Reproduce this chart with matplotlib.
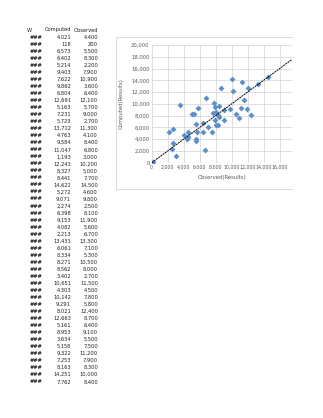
import matplotlib
matplotlib.use('Agg')
import matplotlib.pyplot as plt
from matplotlib.lines import Line2D

# observed vs computed results (one row per case)
observed = [4400, 200, 5500, 8300, 2200, 7900, 10900, 3600, 6400, 12100,
            5700, 9000, 2700, 11300, 4100, 8400, 6800, 3000, 10200, 5000,
            7700, 14500, 4600, 9800, 2500, 8100, 11900, 5600, 6700, 13300,
            7100, 5300, 10500, 8000, 2700, 11500, 4500, 7800, 5800, 12400,
            8700, 6400, 9100, 5500, 7500, 11200, 7900, 8300, 10000, 8400]
computed = [4021, 118, 6573, 6402, 5214, 9403, 7622, 9862, 6804, 12691,
            5163, 7231, 5723, 13712, 4763, 9584, 11047, 1193, 12243, 8327,
            8441, 14622, 5272, 9071, 2274, 6398, 9153, 4082, 2213, 13431,
            6061, 8334, 8271, 8562, 3402, 10651, 4303, 10142, 9291, 8021,
            12663, 5161, 8953, 3634, 5158, 9322, 7253, 8163, 14251, 7762]

col_header = ['W', 'Computed', 'Observed']

W, H = 323, 418
fig = plt.figure(figsize=(W / 100, H / 100), dpi=100)
fig.patch.set_facecolor('white')

def fx(px):
    return px / W

def fy(py):
    return 1 - py / H

# sheet columns on the left
tfont = dict(fontsize=3.7, family='DejaVu Sans', color='#222222', va='center')
fig.text(fx(27), fy(30), col_header[0], ha='left', **tfont)
fig.text(fx(71), fy(30), col_header[1], ha='right', **tfont)
fig.text(fx(98), fy(30), col_header[2], ha='right', **tfont)
for i, (c, o) in enumerate(zip(computed, observed)):
    y = fy(37.3 + i * 7.03)
    fig.text(fx(30), y, '###', ha='left', fontweight='bold', **tfont)
    fig.text(fx(71), y, f'{c:,}', ha='right', **tfont)
    fig.text(fx(98), y, f'{o:,}', ha='right', **tfont)

# chart frame (right side runs off the sheet window)
frame = '#d9d9d9'
x0, x1, y0, y1 = fx(115.7), fx(292), fy(37.3), fy(189)
for xs, ys in [([x0, x0], [y0, y1]), ([x0, x1], [y0, y0]), ([x0, x1], [y1, y1])]:
    fig.add_artist(Line2D(xs, ys, color=frame, lw=0.7, transform=fig.transFigure))

ax = fig.add_axes([fx(151.7), fy(162.7), fx(292) - fx(151.7), fy(45) - fy(162.7)])
ax.set_xlim(0, 17540)
ax.set_ylim(0, 20000)
ax.set_xticks(range(0, 17000, 2000))
ax.set_yticks(range(0, 20001, 2000))
ax.set_xticklabels([f'{v:,}' for v in range(0, 17000, 2000)])
ax.set_yticklabels([f'{v:,}' for v in range(0, 20001, 2000)])
ax.tick_params(length=0, labelsize=3.8, labelcolor='#595959', pad=1.5)
ax.tick_params(axis='x', labelsize=3.4)
for s in ax.spines.values():
    s.set_visible(False)
ax.grid(True, color='#d9d9d9', lw=0.6)
ax.set_axisbelow(True)

ax.scatter(observed, computed, marker='D', s=9, color='#5b8fc9', zorder=3, linewidths=0)
ax.axline((0, 0), slope=1, color='black', lw=0.7, ls=(0, (2, 0.8)), zorder=4)

ax.set_xlabel('Observed(Results)', fontsize=3.8, color='#595959', labelpad=4)
ax.set_ylabel('Computed(Results)', fontsize=3.8, color='#595959', labelpad=5)

fig.savefig('out.png', dpi=100, facecolor='white')
